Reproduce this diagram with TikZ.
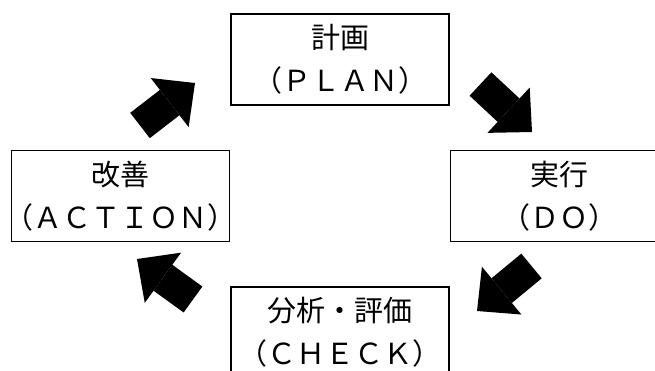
\documentclass[tikz,border=0pt]{standalone}
\usepackage{fontspec}
\setmainfont{Noto Sans CJK JP}
\usetikzlibrary{arrows.meta, positioning}

\begin{document}
\begin{tikzpicture}[x=1pt, y=-1pt]
    % Define styles
    \tikzstyle{stage} = [rectangle, draw, line width=1.6pt, minimum width=218pt, minimum height=91pt, inner xsep=-10pt, inner ysep=0pt, align=center, font=\fontsize{29}{43}\selectfont]
    \tikzstyle{bigarrow} = [draw, line width=32pt, -{Triangle[length=32pt, width=62pt, line width=0pt]}]

    % Page frame (boxes on the right and bottom run off the page)
    \clip (0,0) rectangle (655,370);

    % Cycle boxes
    \node[stage] (PLAN) at (340,59.5) {計画\\（ＰＬＡＮ）};
    \node[stage, below right=44pt and 0pt of PLAN] (DO) {実行\\（ＤＯ）};
    \node[stage, below left=44pt and 0pt of PLAN] (ACT) {改善\\（ＡＣＴＩＯＮ）};
    \node[stage, below right=44pt and 0pt of ACT] (CHECK) {分析・評価\\（ＣＨＥＣＫ）};

    % Arrow tails and tips
    \coordinate (actTail) at (140,125.5);
    \coordinate (actTip) at (195,83);
    \coordinate (planTail) at (480.5,84);
    \coordinate (planTip) at (532,132);
    \coordinate (doTail) at (531.5,266);
    \coordinate (doTip) at (477,311);
    \coordinate (checkTail) at (193,299.5);
    \coordinate (checkTip) at (137,259);

    % Block arrows round the cycle
    \draw[bigarrow] (actTail) -- (actTip);
    \draw[bigarrow] (planTail) -- (planTip);
    \draw[bigarrow] (doTail) -- (doTip);
    \draw[bigarrow] (checkTail) -- (checkTip);
\end{tikzpicture}
\end{document}
